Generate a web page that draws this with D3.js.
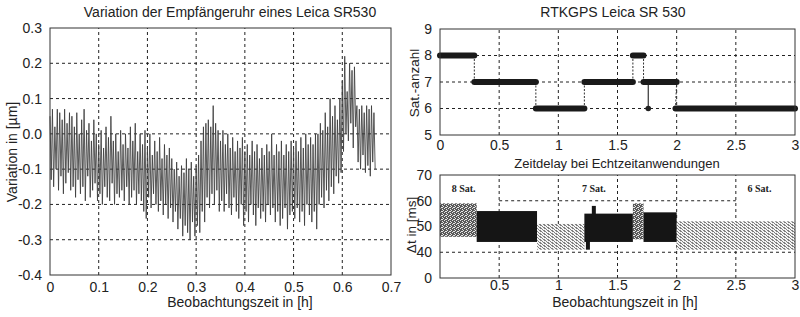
<!DOCTYPE html>
<html>
<head>
<meta charset="utf-8">
<script src="https://cdn.jsdelivr.net/npm/d3@7"></script>
<style>
  body { margin: 0; background: #fff; }
  svg text { font-family: "Liberation Sans", Arial, sans-serif; fill: #222; }
</style>
</head>
<body>
<div id="chart"></div>
<script>
// ---- left chart: clock variation (alternating peaks / troughs) ----
const clockStep = 0.0025; // h between samples
const clockVar = [
  0.05,-0.13, 0.07,-0.15, 0.02,-0.10, 0.07,-0.16, 0.06,-0.12, 0.04,-0.17, 0.07,-0.14, 0.03,-0.11, 0.06,-0.16, 0.05,-0.15,
  0.02,-0.18, 0.06,-0.13, 0.00,-0.17, 0.04,-0.15, 0.07,-0.19, 0.01,-0.12, 0.03,-0.18, -0.02,-0.16, 0.04,-0.14, 0.00,-0.19,
  -0.03,-0.17, 0.01,-0.20, -0.04,-0.15, 0.02,-0.18, -0.01,-0.19, 0.05,-0.14, -0.02,-0.20, 0.00,-0.17, -0.05,-0.18, 0.01,-0.16,
  -0.03,-0.19, 0.00,-0.15, -0.04,-0.20, 0.02,-0.18, -0.02,-0.16, 0.03,-0.20, -0.05,-0.17, 0.00,-0.19, -0.03,-0.22, 0.01,-0.24,
  -0.04,-0.18, 0.00,-0.21, -0.06,-0.17, -0.02,-0.20, -0.05,-0.22, -0.01,-0.19, -0.07,-0.23, -0.03,-0.20, -0.06,-0.24, -0.04,-0.21,
  -0.07,-0.25, -0.10,-0.22, -0.08,-0.27, -0.12,-0.24, -0.09,-0.29, -0.11,-0.26, -0.07,-0.28, -0.10,-0.30, -0.08,-0.25, -0.12,-0.29,
  -0.09,-0.26, -0.06,-0.28, -0.02,-0.22, 0.02,-0.25, 0.03,-0.18, 0.04,-0.21, 0.02,-0.17, 0.08,-0.20, 0.03,-0.16, 0.01,-0.22,
  -0.02,-0.19, 0.01,-0.22, -0.03,-0.17, 0.00,-0.21, -0.04,-0.23, -0.01,-0.18, -0.05,-0.22, -0.02,-0.24, -0.04,-0.20, -0.01,-0.26,
  -0.05,-0.22, -0.03,-0.25, -0.06,-0.20, -0.02,-0.23, -0.05,-0.26, -0.03,-0.21, -0.07,-0.24, -0.04,-0.22, -0.06,-0.25, -0.03,-0.20,
  -0.05,-0.23, 0.00,-0.21, -0.06,-0.25, -0.03,-0.22, -0.05,-0.26, -0.02,-0.24, -0.06,-0.21, -0.03,-0.27, -0.05,-0.23, -0.02,-0.22,
  -0.04,-0.24, -0.02,-0.21, -0.05,-0.25, -0.01,-0.22, -0.04,-0.26, 0.00,-0.20, -0.03,-0.23, -0.01,-0.25, -0.03,-0.22, 0.00,-0.27,
  0.00,-0.20, 0.03,-0.18, 0.01,-0.21, 0.06,-0.16, 0.02,-0.19, 0.10,-0.15, 0.05,-0.17, 0.08,-0.12, 0.04,-0.14, 0.10,-0.11,
  0.15,-0.05, 0.22,0.00, 0.12,-0.02, 0.20,0.03, 0.18,-0.04, 0.19,0.02, 0.08,-0.08, 0.07,-0.10, 0.08,-0.06, 0.06,-0.11,
  0.08,-0.09, 0.07,-0.12, 0.08,-0.08, 0.06,-0.10
];
const leftXTicks = [0, 0.1, 0.2, 0.3, 0.4, 0.5, 0.6, 0.7];
const leftXLabels = ["0", "0.1", "0.2", "0.3", "0.4", "0.5", "0.6", "0.7"];
const leftYTicks = [0.3, 0.2, 0.1, 0, -0.1, -0.2, -0.3, -0.4];
const leftYLabels = ["0.3", "0.2", "0.1", "0.0", "-0.1", "-0.2", "-0.3", "-0.4"];

// ---- right top: number of satellites (step segments) ----
const satStart = [0, 0.29, 0.81, 1.22, 1.63, 1.72, 1.99];
const satEnd   = [0.29, 0.81, 1.22, 1.63, 1.72, 2.0, 3.0];
const satCount = [8, 7, 6, 7, 8, 7, 6];
const satSpikeT = [1.76];
const satSpikeFrom = [7];
const satSpikeTo = [6];
const satYTicks = [9, 8, 7, 6, 5];
const rightXTicks = [0, 0.5, 1, 1.5, 2, 2.5, 3];
const rightXLabels = ["0", "0.5", "1", "1.5", "2", "2.5", "3"];

// ---- right bottom: time delay bands ----
const delayStart = [0, 0.31, 0.82, 1.22, 1.63, 1.72, 2.0];
const delayEnd   = [0.31, 0.82, 1.22, 1.63, 1.72, 2.0, 3.0];
const delayLow   = [46, 44, 41, 44, 45, 44, 41];
const delayHigh  = [59, 56, 51, 55, 59, 55.5, 52];
const delayKind  = ["grey", "black", "light", "black", "grey", "black", "light"];
const delayOutT  = [1.25, 1.30];
const delayOutLo = [41, 53];
const delayOutHi = [47, 58];
const satLabelText = ["8 Sat.", "7 Sat.", "6 Sat."];
const satLabelT = [0.2, 1.3, 2.7];
const delayYTicks = [70, 60, 50, 40, 30];
const delayYLabels = ["70", "60", "50", "40", "0"];
const delayXTicks = [0.5, 1, 1.5, 2, 2.5, 3];
const delayXLabels = ["0.5", "1", "1.5", "2", "2.5", "3"];

const svg = d3.select("#chart").append("svg")
  .attr("width", 800).attr("height", 317);

const defs = svg.append("defs");
const pGrey = defs.append("pattern").attr("id", "speckGrey")
  .attr("patternUnits", "userSpaceOnUse").attr("width", 4).attr("height", 4);
pGrey.append("rect").attr("width", 4).attr("height", 4).attr("fill", "#5a5a5a");
[[0,0],[2,1],[1,3],[3,2],[2,3]].forEach(p => pGrey.append("rect")
  .attr("x", p[0]).attr("y", p[1]).attr("width", 1).attr("height", 1).attr("fill", "#e6e6e6"));
const pLight = defs.append("pattern").attr("id", "speckLight")
  .attr("patternUnits", "userSpaceOnUse").attr("width", 4).attr("height", 3);
pLight.append("rect").attr("width", 4).attr("height", 3).attr("fill", "#f4f4f4");
[[0,0],[1,0],[2,1],[3,2],[0,2]].forEach(p => pLight.append("rect")
  .attr("x", p[0]).attr("y", p[1]).attr("width", 1).attr("height", 1).attr("fill", "#808080"));

function gridLines(g, xs, ys, x, y, dash) {
  g.selectAll(".vg").data(xs).enter().append("line")
    .attr("x1", d => x(d)).attr("x2", d => x(d))
    .attr("y1", y.range()[0]).attr("y2", y.range()[1])
    .attr("stroke", "#222").attr("stroke-width", 1).attr("stroke-dasharray", dash);
  g.selectAll(".hg").data(ys).enter().append("line")
    .attr("x1", x.range()[0]).attr("x2", x.range()[1])
    .attr("y1", d => y(d)).attr("y2", d => y(d))
    .attr("stroke", "#222").attr("stroke-width", 1).attr("stroke-dasharray", dash);
}

function frame(g, x, y) {
  g.append("rect")
    .attr("x", x.range()[0]).attr("y", y.range()[1])
    .attr("width", x.range()[1] - x.range()[0])
    .attr("height", y.range()[0] - y.range()[1])
    .attr("fill", "none").attr("stroke", "#333").attr("stroke-width", 1);
}

function axes(g, x, y, xt, xl, yt, yl, xpad) {
  g.append("g").attr("transform", `translate(0,${y.range()[0]})`)
    .call(d3.axisBottom(x).tickValues(xt).tickSize(0).tickPadding(xpad)
      .tickFormat((d, i) => xl[i]))
    .call(a => a.select(".domain").remove())
    .selectAll("text").style("font-size", "14px").attr("fill", "#222");
  g.append("g").attr("transform", `translate(${x.range()[0]},0)`)
    .call(d3.axisLeft(y).tickValues(yt).tickSize(0).tickPadding(8)
      .tickFormat((d, i) => yl[i]))
    .call(a => a.select(".domain").remove())
    .selectAll("text").style("font-size", "14px").attr("fill", "#222");
}

// ===== left chart =====
const xL = d3.scaleLinear().domain([0, 0.7]).range([50, 391]);
const yL = d3.scaleLinear().domain([-0.4, 0.3]).range([275, 28]);
const gL = svg.append("g");
gridLines(gL, [0.1, 0.2, 0.3, 0.4, 0.5, 0.6], [0.2, 0.1, 0, -0.1, -0.2, -0.3], xL, yL, "3,3");
gL.append("path")
  .datum(clockVar)
  .attr("d", d3.line().x((d, i) => xL(i * clockStep)).y(d => yL(d)))
  .attr("fill", "none").attr("stroke", "#3c3c3c").attr("stroke-width", 0.85);
frame(gL, xL, yL);
axes(gL, xL, yL, leftXTicks, leftXLabels, leftYTicks, leftYLabels, 7);
gL.append("text").attr("x", 230).attr("y", 17).attr("text-anchor", "middle")
  .style("font-size", "14px").text("Variation der Empfängeruhr eines Leica SR530");
gL.append("text").attr("x", 240).attr("y", 307).attr("text-anchor", "middle")
  .style("font-size", "14px").text("Beobachtungszeit in [h]");
gL.append("text").attr("transform", "translate(17,152) rotate(-90)").attr("text-anchor", "middle")
  .style("font-size", "14px").text("Variation in [µm]");

// ===== right top chart =====
const xR = d3.scaleLinear().domain([0, 3]).range([440, 795]);
const yS = d3.scaleLinear().domain([5, 9]).range([135, 29]);
const gT = svg.append("g");
gridLines(gT, [0.5, 1, 1.5, 2, 2.5], [8, 7, 6], xR, yS, "3,3");
const segs = satStart.map((s, i) => ({ s: s, e: satEnd[i], c: satCount[i] }));
// thin connectors between consecutive levels
gT.selectAll(".conn").data(segs.slice(1)).enter().append("line")
  .attr("x1", (d, i) => xR(segs[i].e)).attr("y1", (d, i) => yS(segs[i].c))
  .attr("x2", d => xR(d.s)).attr("y2", d => yS(d.c))
  .attr("stroke", "#333").attr("stroke-width", 1).attr("stroke-dasharray", "2,1.5");
gT.selectAll(".spk").data(satSpikeT).enter().append("line")
  .attr("x1", d => xR(d)).attr("x2", d => xR(d))
  .attr("y1", (d, i) => yS(satSpikeFrom[i])).attr("y2", (d, i) => yS(satSpikeTo[i]))
  .attr("stroke", "#333").attr("stroke-width", 1.2);
gT.selectAll(".spkdot").data(satSpikeT).enter().append("circle")
  .attr("cx", d => xR(d)).attr("cy", (d, i) => yS(satSpikeTo[i])).attr("r", 2.8)
  .attr("fill", "#222");
gT.selectAll(".seg").data(segs).enter().append("line")
  .attr("x1", d => xR(d.s)).attr("x2", d => xR(d.e))
  .attr("y1", d => yS(d.c)).attr("y2", d => yS(d.c))
  .attr("stroke", "#1a1a1a").attr("stroke-width", 6).attr("stroke-linecap", "round");
frame(gT, xR, yS);
axes(gT, xR, yS, rightXTicks, rightXLabels, satYTicks, satYTicks.map(String), 5);
gT.append("text").attr("x", 613).attr("y", 17).attr("text-anchor", "middle")
  .style("font-size", "14px").text("RTKGPS Leica SR 530");
gT.append("text").attr("transform", "translate(419,83) rotate(-90)").attr("text-anchor", "middle")
  .style("font-size", "13.5px").text("Sat.-anzahl");

// ===== right bottom chart =====
const yD = d3.scaleLinear().domain([30, 70]).range([278, 175]);
const gB = svg.append("g");
gridLines(gB, [0.5, 1, 1.5, 2, 2.5], [50, 40], xR, yD, "3,3");
// 60 grid line is interrupted by the label boxes at both ends
gB.append("line").attr("x1", xR(0.5)).attr("x2", xR(2.5))
  .attr("y1", yD(60)).attr("y2", yD(60))
  .attr("stroke", "#222").attr("stroke-dasharray", "3,3");
const fills = { grey: "url(#speckGrey)", black: "#151515", light: "url(#speckLight)" };
gB.selectAll(".band").data(delayStart).enter().append("rect")
  .attr("x", d => xR(d))
  .attr("width", (d, i) => xR(delayEnd[i]) - xR(d))
  .attr("y", (d, i) => yD(delayHigh[i]))
  .attr("height", (d, i) => yD(delayLow[i]) - yD(delayHigh[i]))
  .attr("fill", (d, i) => fills[delayKind[i]]);
gB.selectAll(".out").data(delayOutT).enter().append("rect")
  .attr("x", d => xR(d) - 2).attr("width", 4)
  .attr("y", (d, i) => yD(delayOutHi[i]))
  .attr("height", (d, i) => yD(delayOutLo[i]) - yD(delayOutHi[i]))
  .attr("fill", "#151515");
gB.selectAll(".satlab").data(satLabelText).enter().append("text")
  .attr("x", (d, i) => xR(satLabelT[i])).attr("y", yD(63.5))
  .attr("text-anchor", "middle")
  .style("font-family", "'Liberation Serif', serif").style("font-size", "10px")
  .style("font-weight", "bold")
  .attr("fill", (d, i) => i === 2 ? "#888" : "#222")
  .text(d => d);
frame(gB, xR, yD);
axes(gB, xR, yD, delayXTicks, delayXLabels, delayYTicks, delayYLabels, 2);
gB.append("text").attr("x", 617).attr("y", 168).attr("text-anchor", "middle")
  .style("font-size", "13px").text("Zeitdelay bei Echtzeitanwendungen");
gB.append("text").attr("x", 625).attr("y", 307).attr("text-anchor", "middle")
  .style("font-size", "14px").text("Beobachtungszeit in [h]");
gB.append("text").attr("transform", "translate(416,225) rotate(-90)").attr("text-anchor", "middle")
  .style("font-size", "13.5px").text("Δt  in [ms]");
</script>
</body>
</html>
